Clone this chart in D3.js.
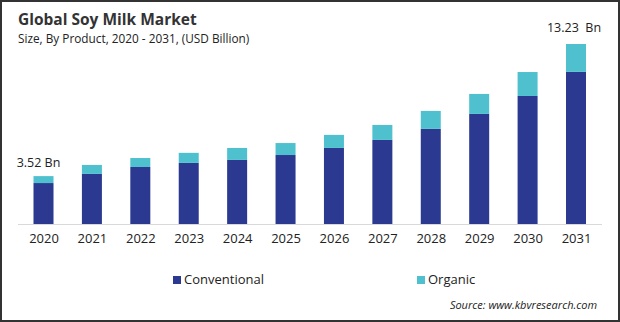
<!DOCTYPE html>
<html>
<head>
<meta charset="utf-8">
<script src="https://cdn.jsdelivr.net/npm/d3@7"></script>
<style>
  body { margin: 0; background: #fff; }
  svg { display: block; font-family: "Open Sans", "Noto Sans", sans-serif; }
</style>
</head>
<body>
<svg id="chart"></svg>
<script>
// data (USD billion)
var years = ["2020", "2021", "2022", "2023", "2024", "2025", "2026", "2027", "2028", "2029", "2030", "2031"];
var conventional = [3.01, 3.68, 4.19, 4.49, 4.71, 5.07, 5.59, 6.18, 6.99, 8.09, 9.41, 11.18];
var organic = [0.51, 0.66, 0.66, 0.74, 0.88, 0.88, 0.96, 1.10, 1.32, 1.47, 1.76, 2.05];
var seriesNames = ["Conventional", "Organic"];
var colors = ["#2b3990", "#4fc1ce"];
var endLabels = [{ i: 0, text: "3.52 Bn" }, { i: 11, text: "13.23  Bn" }];

var width = 620, height = 322;

var svg = d3.select("#chart")
  .attr("width", width)
  .attr("height", height);

svg.append("rect")
  .attr("width", width)
  .attr("height", height)
  .attr("fill", "white");

var rows = years.map(function(y, i) {
  return { year: y, Conventional: conventional[i], Organic: organic[i] };
});

var stack = d3.stack().keys(seriesNames);
var layers = stack(rows);

var x = d3.scalePoint()
  .domain(years)
  .range([43.5, 576]);
var barW = 20;

var y = d3.scaleLinear()
  .domain([0, 13.23])
  .range([224, 44]);

var color = d3.scaleOrdinal().domain(seriesNames).range(colors);

// baseline
svg.append("line")
  .attr("x1", 18).attr("x2", 602)
  .attr("y1", y(0) + 0.5).attr("y2", y(0) + 0.5)
  .attr("stroke", "#d9d9d9")
  .attr("stroke-width", 1);

svg.append("g")
  .selectAll("g")
  .data(layers)
  .enter().append("g")
  .attr("fill", function(d) { return color(d.key); })
  .selectAll("rect")
  .data(function(d) { return d; })
  .enter().append("rect")
  .attr("x", function(d) { return x(d.data.year) - barW / 2; })
  .attr("y", function(d) { return y(d[1]); })
  .attr("width", barW)
  .attr("height", function(d) { return y(d[0]) - y(d[1]); });

// year axis
var xAxis = svg.append("g")
  .attr("transform", "translate(0," + y(0) + ")")
  .call(d3.axisBottom(x).tickSize(0).tickPadding(10));
xAxis.select(".domain").remove();
xAxis.selectAll("text")
  .attr("font-family", "\"Open Sans\", sans-serif")
  .attr("font-size", 13)
  .attr("fill", "#222");

// first / last totals
svg.append("g")
  .selectAll("text")
  .data(endLabels)
  .enter().append("text")
  .attr("x", function(d) { return x(years[d.i]) + (d.i === 0 ? -5 : -2); })
  .attr("y", function(d) { return y(conventional[d.i] + organic[d.i]) - (d.i === 0 ? 9 : 12); })
  .attr("text-anchor", "middle")
  .attr("font-size", 12.5)
  .attr("fill", "#222")
  .attr("xml:space", "preserve")
  .text(function(d) { return d.text; });

// titles
svg.append("text")
  .attr("x", 18).attr("y", 25)
  .attr("font-size", 15.5)
  .attr("font-weight", "bold")
  .attr("fill", "#333")
  .text("Global Soy Milk Market");

svg.append("text")
  .attr("x", 18).attr("y", 43)
  .attr("font-size", 11.8)
  .attr("fill", "#222")
  .text("Size, By Product, 2020 - 2031, (USD Billion)");

// legend
var legendX = [173, 417];
var legend = svg.append("g")
  .selectAll("g")
  .data(seriesNames)
  .enter().append("g")
  .attr("transform", function(d, i) { return "translate(" + legendX[i] + ",276)"; });
legend.append("rect")
  .attr("width", 8).attr("height", 8)
  .attr("fill", function(d) { return color(d); });
legend.append("text")
  .attr("x", 11).attr("y", 7.5)
  .attr("font-size", 13)
  .attr("fill", "#222")
  .text(function(d) { return d; });

svg.append("text")
  .attr("x", 597).attr("y", 309)
  .attr("text-anchor", "end")
  .attr("font-size", 11)
  .attr("font-style", "italic")
  .attr("fill", "#222")
  .text("Source: www.kbvresearch.com");

// outer frame
svg.append("rect")
  .attr("x", 1).attr("y", 1)
  .attr("width", width - 2).attr("height", height - 2)
  .attr("fill", "none")
  .attr("stroke", "#333")
  .attr("stroke-width", 2);
</script>
</body>
</html>
